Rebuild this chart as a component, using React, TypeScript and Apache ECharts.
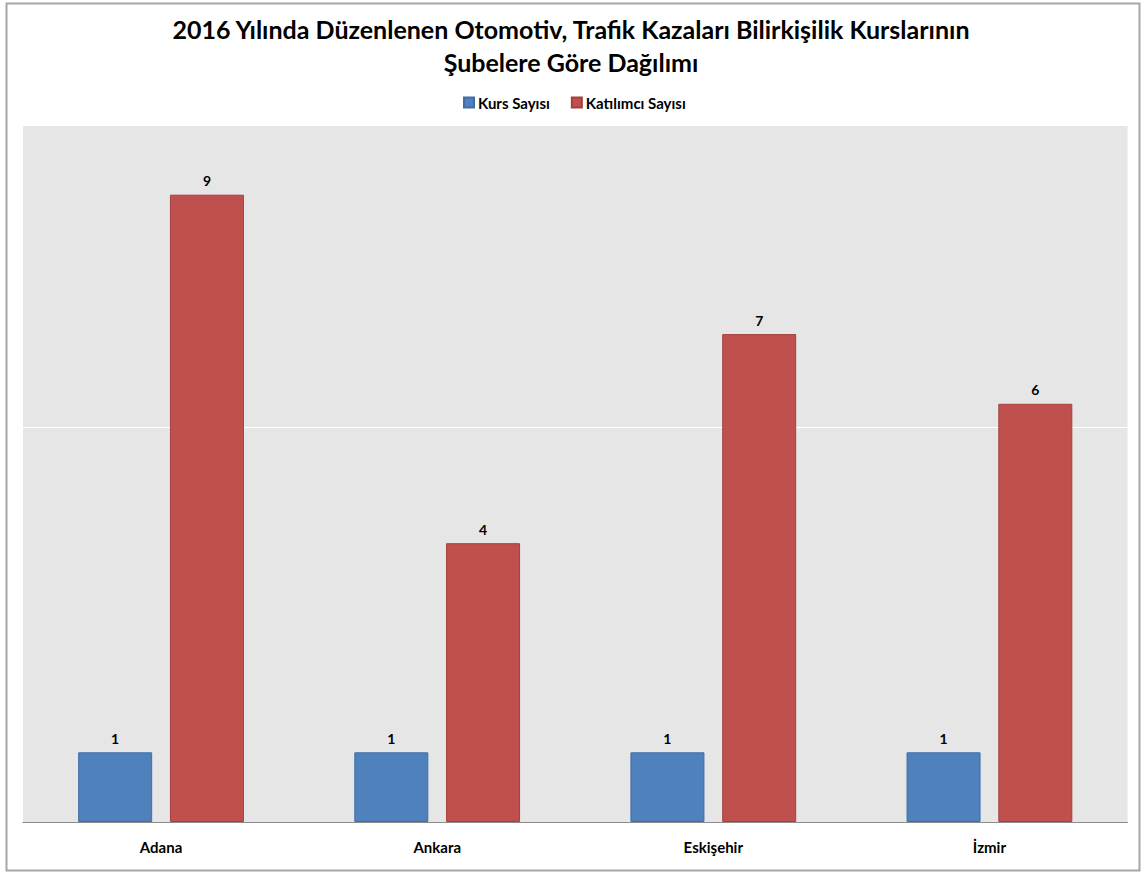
import React, { useEffect, useRef } from "react";
import * as echarts from "echarts";

const categories = ["Adana", "Ankara", "Eskişehir", "İzmir"];
const kursSayisi = [1, 1, 1, 1];
const katilimciSayisi = [9, 4, 7, 6];
const seriesNames = ["Kurs Sayısı", "Katılımcı Sayısı"];
const titleText = "2016 Yılında Düzenlenen Otomotiv, Trafik Kazaları Bilirkişilik Kurslarının\nŞubelere Göre Dağılımı";
const yMax = 10;
const gridInterval = 5.667;

const FONT = "Lato, 'Open Sans', sans-serif";

export default function App() {
  const ref = useRef<HTMLDivElement>(null);
  useEffect(() => {
    if (!ref.current) return;
    const chart = echarts.init(ref.current, null, { renderer: "svg" });
    const label = {
      show: true,
      position: "top",
      distance: 7,
      fontFamily: FONT,
      fontWeight: "bold",
      fontSize: 14,
      color: "#000",
    };
    chart.setOption({
      animation: false,
      backgroundColor: "#fff",
      graphic: [
        {
          type: "rect",
          shape: { x: 6.5, y: 3.5, width: 1133, height: 867 },
          style: { fill: "none", stroke: "#A6A6A6", lineWidth: 2 },
          silent: true,
        },
      ],
      title: {
        text: titleText,
        left: "center",
        top: 7,
        textStyle: {
          fontFamily: FONT,
          fontWeight: "bold",
          fontSize: 25,
          lineHeight: 33,
          color: "#000",
        },
      },
      legend: {
        top: 90,
        left: 458,
        icon: "rect",
        itemWidth: 10,
        itemHeight: 10,
        itemGap: 21,
        textStyle: {
          fontFamily: FONT,
          fontWeight: "bold",
          fontSize: 15,
          color: "#000",
          padding: [0, 0, 0, -1],
        },
        data: seriesNames,
      },
      grid: {
        left: 23,
        right: 14.5,
        top: 125,
        bottom: 51,
        show: true,
        backgroundColor: "#E6E6E6",
        borderWidth: 0,
        containLabel: false,
      },
      xAxis: {
        type: "category",
        data: categories,
        axisLine: { show: true, lineStyle: { color: "#8C8C8C", width: 1 } },
        axisTick: { show: false },
        axisLabel: {
          margin: 17,
          fontFamily: FONT,
          fontWeight: "bold",
          fontSize: 15,
          color: "#000",
        },
      },
      yAxis: {
        type: "value",
        min: 0,
        max: yMax,
        interval: gridInterval,
        axisLine: { show: false },
        axisTick: { show: false },
        axisLabel: { show: false },
        splitLine: { show: true, lineStyle: { color: "#FFFFFF", width: 1 } },
      },
      series: [
        {
          name: seriesNames[0],
          type: "bar",
          data: kursSayisi,
          barWidth: "26.8%",
          barGap: "24%",
          itemStyle: { color: "#4F81BD", borderColor: "#3F6EA6", borderWidth: 1 },
          label,
        },
        {
          name: seriesNames[1],
          type: "bar",
          data: katilimciSayisi,
          barWidth: "26.8%",
          barGap: "24%",
          itemStyle: { color: "#C0504D", borderColor: "#A3403D", borderWidth: 1 },
          label,
        },
      ],
    });
    return () => chart.dispose();
  }, []);
  return (
    <div
      ref={ref}
      style={{ position: "absolute", left: 0, top: 0, width: 1142, height: 873 }}
    />
  );
}
